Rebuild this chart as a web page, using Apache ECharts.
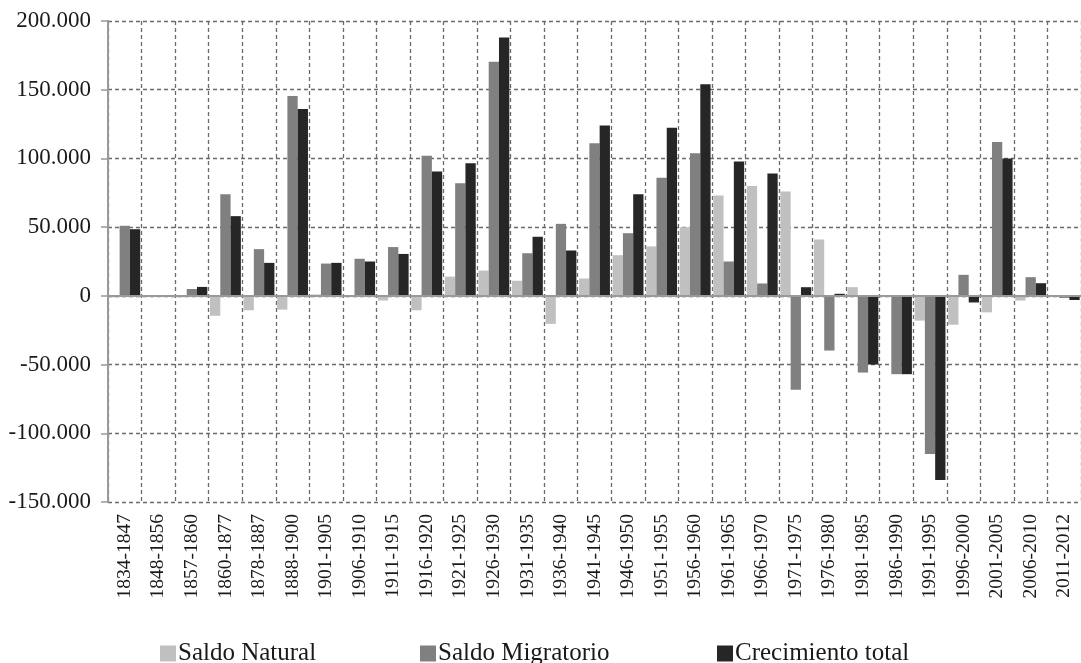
<!DOCTYPE html>
<html><head><meta charset="utf-8">
<script src="https://cdn.jsdelivr.net/npm/echarts@6/dist/echarts.min.js"></script>
<style>html,body{margin:0;padding:0;background:#fff}#c{width:1081px;height:663px}</style>
</head><body><div id="c"></div>
<script>
const categories = ['1834-1847','1848-1856','1857-1860','1860-1877','1878-1887','1888-1900','1901-1905','1906-1910','1911-1915','1916-1920','1921-1925','1926-1930','1931-1935','1936-1940','1941-1945','1946-1950','1951-1955','1956-1960','1961-1965','1966-1970','1971-1975','1976-1980','1981-1985','1986-1990','1991-1995','1996-2000','2001-2005','2006-2010','2011-2012'];
const saldoNatural = [-1000,0,-1000,-14500,-10500,-10000,1000,500,-3400,-10500,14000,18400,11000,-20400,12600,29600,36000,50000,73000,80000,76000,41000,6300,0,-18000,-21000,-12000,-3400,-500];
const saldoMigratorio = [51000,0,5000,74000,34000,145500,23500,27000,35500,102000,82000,170400,31000,52400,111000,45600,86000,103800,25000,9000,-68400,-39800,-55800,-57000,-115000,15300,112000,13600,-1500];
const crecimientoTotal = [48500,0,6500,58000,24000,136000,24000,25000,30500,90500,96500,188000,43000,33000,124000,74000,122400,154000,97700,89000,6300,1500,-50000,-57000,-134000,-4800,100000,9200,-3000];
const seriesNames = ['Saldo Natural','Saldo Migratorio','Crecimiento total'];
const colors = ['#c0c0c0','#808080','#262626'];

const font = 'Liberation Serif';
const chart = echarts.init(document.getElementById('c'));
const dashed = {color:'#6a6a6a', type:[4,3], width:1.3};
function legendAt(i, left){
  return {data:[seriesNames[i]], left:left, top:636, icon:'rect', itemWidth:16, itemHeight:16, itemGap:0,
    textStyle:{fontFamily:font, fontSize:25, color:'#1a1a1a', padding:[0,0,0,-3]}};
}
chart.setOption({
  animation:false,
  color:colors,
  legend:[legendAt(0,155), legendAt(1,415), legendAt(2,712)],
  grid:{left:108, right:0, top:21, bottom:161, containLabel:false},
  xAxis:{type:'category', data:categories,
    axisLine:{onZero:false, show:false},
    axisTick:{show:false},
    splitLine:{show:true, interval:0, lineStyle:dashed},
    axisLabel:{rotate:90, interval:0, fontFamily:font, fontSize:19.5, color:'#1a1a1a', margin:12}},
  yAxis:{type:'value', min:-150000, max:200000, interval:50000,
    axisLine:{show:true, lineStyle:{color:'#999999', width:2}},
    axisTick:{show:true, length:7, lineStyle:{color:'#999999', width:1.5}},
    splitLine:{show:true, lineStyle:dashed},
    axisLabel:{fontFamily:font, fontSize:23, color:'#1a1a1a', margin:17,
      formatter:v=> v===0 ? '0' : (v/1000)+'.000'}},
  series:[
    {name:seriesNames[0], type:'bar', data:saldoNatural, barGap:'0%', barCategoryGap:'8%',
      markLine:{silent:true, symbol:'none', label:{show:false}, lineStyle:{color:'#999999', type:'solid', width:2}, data:[{yAxis:0}]}},
    {name:seriesNames[1], type:'bar', data:saldoMigratorio, barGap:'0%', barCategoryGap:'8%'},
    {name:seriesNames[2], type:'bar', data:crecimientoTotal, barGap:'0%', barCategoryGap:'8%'}
  ]
});
</script></body></html>
